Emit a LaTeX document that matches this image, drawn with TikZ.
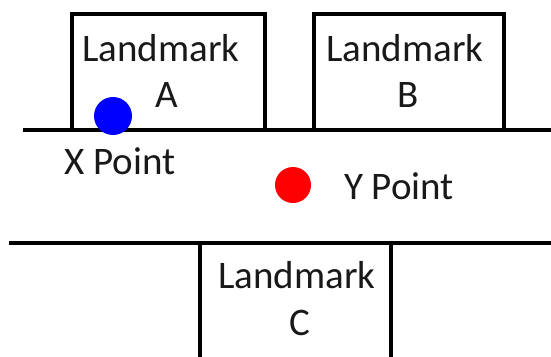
\documentclass[tikz,border=0pt]{standalone}
\usepackage{fontspec}
\setmainfont{Carlito}
\begin{document}
\begin{tikzpicture}[x=1pt,y=-1pt,
  wall/.style={line width=4pt, black},
  lbl/.style={inner sep=0pt, anchor=base, font=\fontsize{39}{46}\selectfont, text=black!90}]
\useasboundingbox (0,0) rectangle (551,356);
% roads
\draw[wall] (23,130) -- (551,130);
\draw[wall] (9,243) -- (551,243);
% landmark boxes
\draw[wall, line join=miter] (72,130) -- (72,14) -- (265,14) -- (265,130);
\draw[wall, line join=miter] (314,130) -- (314,14) -- (504,14) -- (504,130);
\draw[wall] (200,243) -- (200,358);
\draw[wall] (391,243) -- (391,358);
% labels
\node[lbl] (la1) at (161,61) {Landmark};
\node[lbl] (la2) at (167,107) {A};
\node[lbl] (lb1) at (405,61) {Landmark};
\node[lbl] (lb2) at (408,107) {B};
\node[lbl] (lc1) at (297,288) {Landmark};
\node[lbl] (lc2) at (300,335) {C};
% points
\fill[blue] (113,116) circle[radius=19];
\fill[red] (293,185) circle[radius=18];
\node[lbl] (xp) at (120,174) {X Point};
\node[lbl] (yp) at (399,199) {Y Point};
\end{tikzpicture}
\end{document}
